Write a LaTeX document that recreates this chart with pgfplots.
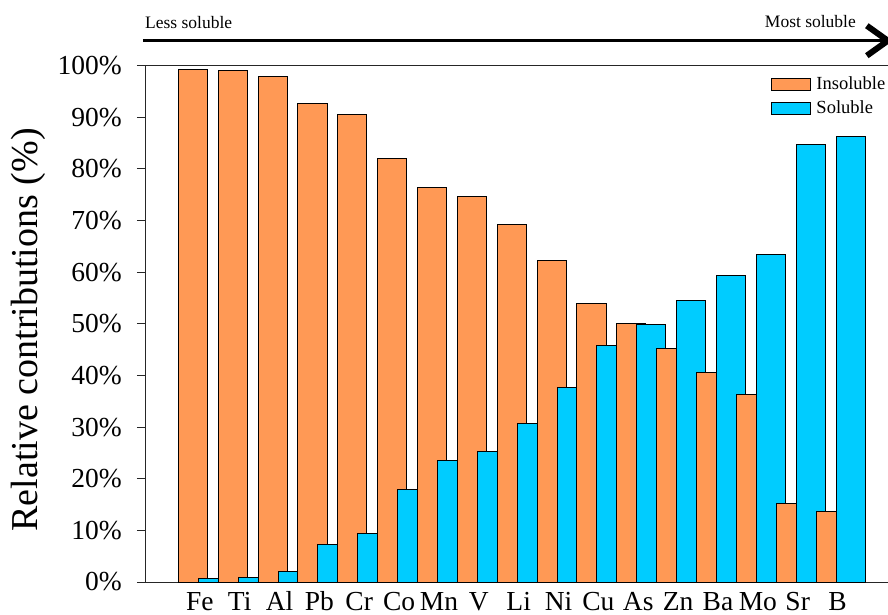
\documentclass[border=0pt]{standalone}
\usepackage{fontspec}
\setmainfont{Liberation Serif}
\usepackage{pgfplots}
\pgfplotsset{compat=1.18}
\usepackage{pgfplotstable}
\usetikzlibrary{arrows.meta}
\definecolor{insol}{RGB}{255,153,85}
\definecolor{sol}{RGB}{0,204,255}

\pgfplotstableread{
x el ins sol
0 Fe 99.3 0.7
1 Ti 99.1 0.8
2 Al 97.8 2.0
3 Pb 92.7 7.3
4 Cr 90.6 9.4
5 Co 82.0 17.9
6 Mn 76.4 23.6
7 V 74.7 25.3
8 Li 69.3 30.7
9 Ni 62.3 37.6
10 Cu 54.0 45.9
11 As 50.1 49.8
12 Zn 45.3 54.6
13 Ba 40.5 59.4
14 Mo 36.4 63.5
15 Sr 15.2 84.8
16 B 13.7 86.3
}\data

\begin{document}
\begin{tikzpicture}
\begin{axis}[
  scale only axis, width=743pt, height=516.5pt,
  xmin=-1.45, xmax=17.19, ymin=0, ymax=100,
  clip=false,
  axis lines=left,
  axis line style={-, black!85, line width=0.9pt},
  xtick={0,...,16},
  xticklabels from table={\data}{el},
  x tick style={draw=none},
  ytick={0,10,...,100},
  yticklabels={0\%,10\%,20\%,30\%,40\%,50\%,60\%,70\%,80\%,90\%,100\%},
  y tick style={black!85, line width=0.9pt},
  tick align=outside, major tick length=8pt,
  ticklabel style={font=\fontsize{27.5}{30}\selectfont},
  xticklabel style={anchor=north, inner sep=0pt, text height=18pt, text depth=0pt, xshift=-3pt, yshift=-2pt},
  yticklabel style={anchor=east, inner sep=0pt, xshift=-15pt},
  ylabel={Relative contributions (\%)},
  every axis y label/.style={at={(rel axis cs:-0.1332,0.488)}, rotate=90, anchor=south, inner sep=0pt, font=\fontsize{38}{40}\selectfont},
  legend style={at={(rel axis cs:0.8425,0.982)}, anchor=north west, draw=none, fill=none,
    font=\fontsize{18.5}{20}\selectfont, inner sep=0pt, row sep=5.5pt,
    nodes={inner xsep=5.5pt}},
  legend cell align=left,
  legend image code/.code={\draw[#1] (0pt,-6pt) rectangle (39pt,6pt);},
]
\coordinate (bl) at (rel axis cs:0,0);
\coordinate (tr) at (rel axis cs:1,1);
\pgfplotsinvokeforeach{0,...,16}{
  \addplot[ybar, bar width=0.73, bar shift=-0.25, fill=insol, draw=black, line width=0.8pt, forget plot,
    x filter/.expression={abs(x-#1)<0.1 ? x : nan}] table[x=x, y=ins]{\data};
  \addplot[ybar, bar width=0.73, bar shift=0.25, fill=sol, draw=black, line width=0.8pt, forget plot,
    x filter/.expression={abs(x-#1)<0.1 ? x : nan}] table[x=x, y=sol]{\data};
}
\addlegendimage{fill=insol, draw=black, line width=0.8pt}
\addlegendentry{Insoluble}
\addlegendimage{fill=sol, draw=black, line width=0.8pt}
\addlegendentry{Soluble}
\draw[black!85, line width=0.9pt] (rel axis cs:0,1) -- (rel axis cs:1,1);
\node[anchor=base west, inner sep=0pt, yshift=36.5pt, font=\fontsize{17.5}{19}\selectfont] at (rel axis cs:0,1) {Less soluble};
\node[anchor=base east, inner sep=0pt, yshift=37.5pt, font=\fontsize{17.5}{19}\selectfont] at (rel axis cs:0.957,1) {Most soluble};
\draw[line width=2.5pt, -{Straight Barb[length=21pt, width=30pt, line width=6pt]}]
  ([yshift=24.8pt]rel axis cs:-0.0027,1) -- ([yshift=24.8pt]rel axis cs:1.0067,1);
\end{axis}
\pgfresetboundingbox
\path ([shift={(-145pt,-32pt)}]bl) rectangle ([shift={(0pt,65.5pt)}]tr);
\end{tikzpicture}
\end{document}
